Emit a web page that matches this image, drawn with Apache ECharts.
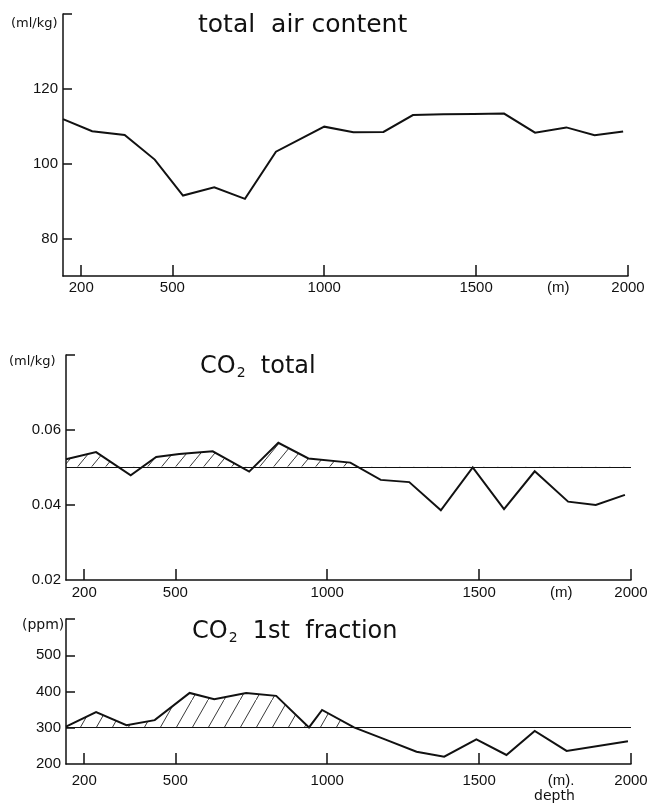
<!DOCTYPE html>
<html>
<head>
<meta charset="utf-8">
<script src="https://cdn.jsdelivr.net/npm/echarts@6/dist/echarts.min.js"></script>
<style>
html,body{margin:0;padding:0;background:#fff;}
#c{width:654px;height:804px;}
</style>
</head>
<body>
<div id="c"></div>
<script>
// ---- data ----
const depthAir = [140,236,343,442,535,638,739,841,1000,1096,1195,1292,1392,1492,1592,1694,1797,1890,1984];
const airContent = [111.9,108.7,107.7,101.1,91.5,93.7,90.6,103.2,109.9,108.4,108.5,113.0,113.2,113.3,113.4,108.3,109.7,107.6,108.6];

const depthCO2 = [140,239,353,437,513,623,743,839,938,1076,1176,1270,1374,1479,1582,1683,1793,1884,1980];
const co2Total = [0.0522,0.0541,0.0479,0.0528,0.0536,0.0543,0.0489,0.0566,0.0524,0.0513,0.0467,0.0461,0.0386,0.0500,0.0389,0.0490,0.0409,0.0400,0.0427];
const co2TotalRef = 0.0502;

const depthFrac = [140,239,339,432,547,628,733,832,940,983,1088,1190,1294,1385,1491,1590,1683,1788,1990];
const co2Frac = [303,343,307,321,396,379,396,388,301,349,301,268,234,220,268,225,291,236,263];
const co2FracRef = 301;

const xTicks = [200,500,1000,1500,2000];
const xLabelVals = [200,500,1000,1500,1770,2000];
const airTicks = [80,100,120,140], airLabels = [80,100,120];
const totTicks = [0.04,0.06,0.08], totLabels = [0.02,0.04,0.06];
const fracTicks = [300,400,500,600], fracLabels = [200,300,400,500];

const INK = '#111';
const FONT = 'Liberation Sans';
const TFONT = 'DejaVu Sans';

function hatch(w, h) {
  const c = document.createElement('canvas');
  c.width = w; c.height = h;
  const g = c.getContext('2d');
  g.strokeStyle = '#222';
  g.lineWidth = 0.9;
  const s = h / w;
  g.beginPath();
  g.moveTo(-2, h + 2 * s); g.lineTo(w + 2, -2 * s);
  g.stroke();
  return c;
}
const patMid = hatch(14, 17);
const patBot = hatch(16, 28);

function xAxisOpt(idx, margin, unitLabel) {
  return {
    type: 'value', gridIndex: idx, min: 140, max: 2000, z: 10,
    axisLine: { show: true, lineStyle: { color: INK, width: 1.5 } },
    axisTick: { show: true, inside: true, length: 11, customValues: xTicks, lineStyle: { color: INK, width: 1.5 } },
    axisLabel: { show: true, customValues: xLabelVals, margin: margin, color: INK, fontFamily: FONT, fontSize: 15,
      formatter: v => v === 1770 ? unitLabel : String(v) },
    splitLine: { show: false }
  };
}
function yAxisOpt(idx, min, max, ticks, labels, fmt) {
  return {
    type: 'value', gridIndex: idx, min: min, max: max, z: 10,
    axisLine: { show: true, lineStyle: { color: INK, width: 1.5 } },
    axisTick: { show: true, inside: true, length: 9, customValues: ticks, lineStyle: { color: INK, width: 1.5 } },
    axisLabel: { show: true, customValues: labels, margin: 5, color: INK, fontFamily: FONT, fontSize: 15, formatter: fmt },
    splitLine: { show: false }
  };
}
function hatchSeries(idx, depths, vals, ref, pat) {
  return {
    type: 'custom', xAxisIndex: idx, yAxisIndex: idx, z: 2, silent: true,
    data: [[depths[0], ref]],
    renderItem: function (params, api) {
      const cs = params.coordSys;
      const pts = [];
      const yb = api.coord([depths[0], ref])[1];
      pts.push([api.coord([depths[0], ref])[0], yb]);
      for (let i = 0; i < depths.length; i++) pts.push(api.coord([depths[i], vals[i]]));
      pts.push([api.coord([depths[depths.length - 1], ref])[0], yb]);
      return {
        type: 'polygon',
        shape: { points: pts },
        style: { fill: { image: pat, repeat: 'repeat' }, stroke: null },
        clipPath: { type: 'rect', shape: { x: cs.x, y: cs.y, width: cs.width, height: yb - cs.y } }
      };
    }
  };
}
function lineSeries(idx, depths, vals, ref) {
  const s = {
    type: 'line', xAxisIndex: idx, yAxisIndex: idx, z: 5, silent: true,
    symbol: 'none', animation: false,
    lineStyle: { color: INK, width: 2, join: 'miter' },
    data: depths.map((d, i) => [d, vals[i]])
  };
  if (ref !== undefined) {
    s.markLine = { symbol: 'none', silent: true, animation: false, label: { show: false },
      lineStyle: { color: INK, width: 1.2, type: 'solid' }, data: [{ yAxis: ref }] };
  }
  return s;
}

const chart = echarts.init(document.getElementById('c'), null, { renderer: 'canvas' });
const titleRich = {
  a: { fontFamily: TFONT, fontSize: 24, fontWeight: 'normal', color: INK },
  s: { fontFamily: TFONT, fontSize: 14, fontWeight: 'normal', color: INK, padding: [13, 0, 0, 1] }
};
chart.setOption({
  animation: false,
  backgroundColor: '#fff',
  title: [
    { text: 'total  air content', left: 193, top: 8, textStyle: { fontFamily: TFONT, fontSize: 25, fontWeight: 'normal', color: INK } },
    { text: '{a|CO}{s|2}{a|  total}', left: 195, top: 348, textStyle: { fontWeight: 'normal', rich: titleRich } },
    { text: '{a|CO}{s|2}{a|  1st  fraction}', left: 187, top: 613, textStyle: { fontWeight: 'normal', rich: titleRich } }
  ],
  graphic: [
    { type: 'text', left: 11, top: 17, style: { text: '(ml/kg)', font: '13px "DejaVu Sans"', fill: INK } },
    { type: 'text', left: 9, top: 355, style: { text: '(ml/kg)', font: '13px "DejaVu Sans"', fill: INK } },
    { type: 'text', left: 22, top: 618, style: { text: '(ppm)', font: '14px "DejaVu Sans"', fill: INK } },
    { type: 'text', left: 534, top: 789, style: { text: 'depth', font: '14px "DejaVu Sans"', fill: INK } }
  ],
  grid: [
    { left: 63, top: 14, width: 565, height: 262 },
    { left: 66, top: 355, width: 565, height: 225 },
    { left: 66, top: 619, width: 565, height: 145 }
  ],
  xAxis: [
    xAxisOpt(0, 4, '(m)'),
    xAxisOpt(1, 5, '(m)'),
    xAxisOpt(2, 9, '(m).')
  ],
  yAxis: [
    yAxisOpt(0, 70, 140, airTicks, airLabels, v => String(v)),
    yAxisOpt(1, 0.02, 0.08, totTicks, totLabels, v => v.toFixed(2)),
    yAxisOpt(2, 200, 600, fracTicks, fracLabels, v => String(v))
  ],
  series: [
    lineSeries(0, depthAir, airContent),
    hatchSeries(1, depthCO2, co2Total, co2TotalRef, patMid),
    lineSeries(1, depthCO2, co2Total, co2TotalRef),
    hatchSeries(2, depthFrac, co2Frac, co2FracRef, patBot),
    lineSeries(2, depthFrac, co2Frac, co2FracRef)
  ]
});
</script>
</body>
</html>
